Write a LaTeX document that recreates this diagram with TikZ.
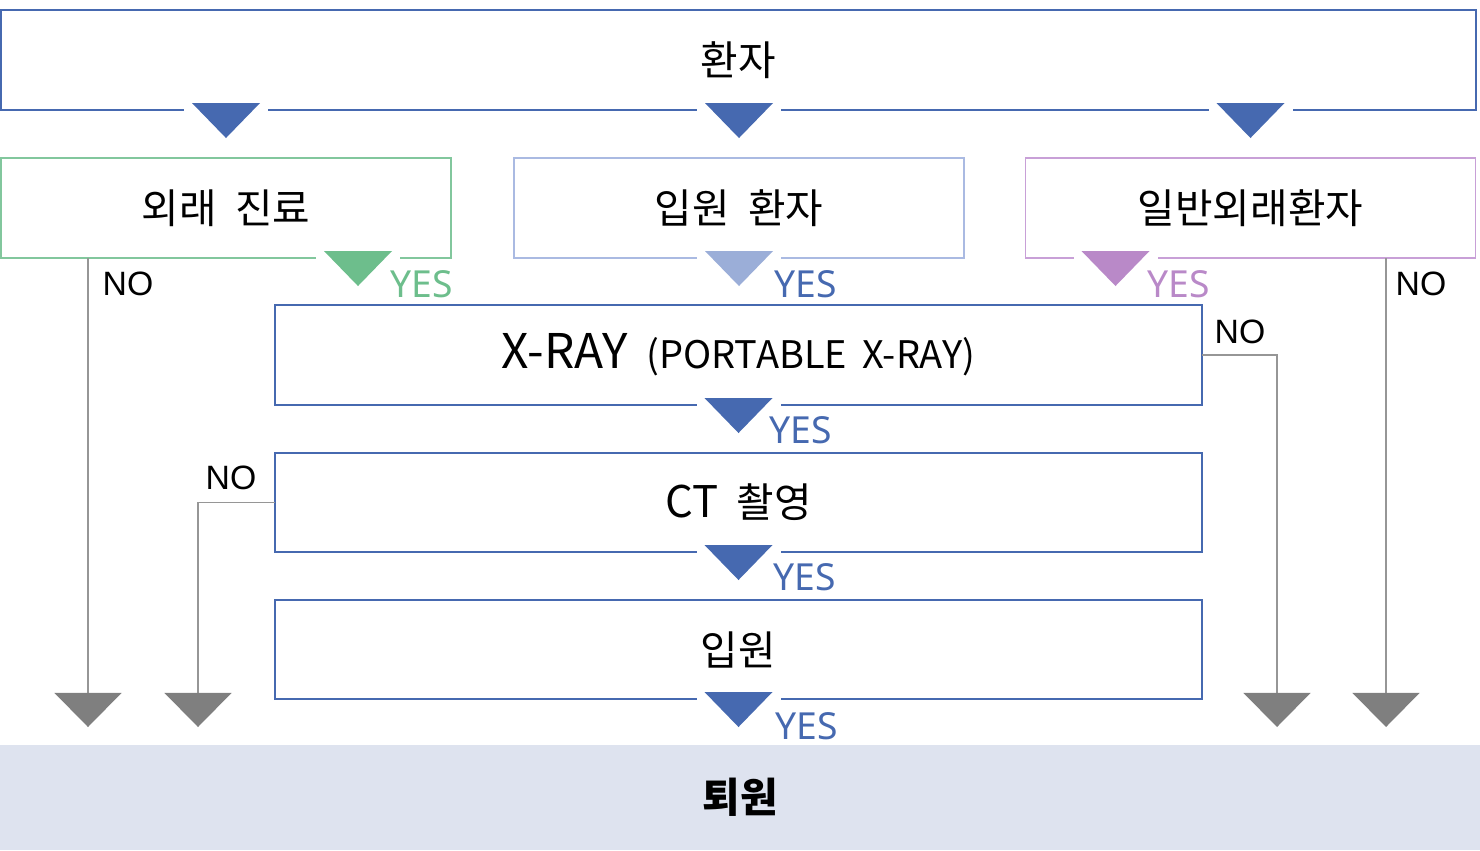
\documentclass[tikz,border=0pt]{standalone}
\usepackage{fontspec}
\setmainfont{Noto Sans CJK KR}
\newfontfamily\yesfont{Noto Sans}
\newfontfamily\nofont{Liberation Sans}
\usetikzlibrary{calc,arrows.meta}

\definecolor{flowblue}{RGB}{70,105,176}
\definecolor{greenline}{RGB}{130,199,157}
\definecolor{greenfill}{RGB}{109,190,140}
\definecolor{lightline}{RGB}{170,186,226}
\definecolor{lightfill}{RGB}{155,174,216}
\definecolor{purpleline}{RGB}{200,160,215}
\definecolor{purplefill}{RGB}{185,137,200}
\definecolor{linegray}{RGB}{150,150,150}
\definecolor{tipgray}{RGB}{127,127,127}
\definecolor{band}{RGB}{222,227,239}

% triangle marker under a box, cutting its border
\newcommand{\flowtri}[2]{%
  \fill[white] ($(#1)+(-42,-4)$) rectangle ($(#1)+(42,4)$);
  \fill[#2] ($(#1)+(-34,-7)$) -- ($(#1)+(34,-7)$) -- ($(#1)+(0,28)$) -- cycle;}

\tikzset{
  box/.style={draw=#1, line width=1.2pt, fill=white, inner sep=0pt, outer sep=0pt,
    minimum height=2.5cm, font=\fontsize{29}{32}\selectfont},
  yeslbl/.style={font=\yesfont\fontsize{26.5}{30}\selectfont, text=#1, inner sep=0pt, anchor=west},
  nolbl/.style={font=\nofont\fontsize{24}{28}\selectfont, inner sep=0pt},
  noline/.style={draw=linegray, line width=1.4pt,
    -{Triangle[width=47.7pt, length=24.2pt, line width=0pt, color=tipgray]}},
}

\begin{document}
\begin{tikzpicture}[x=0.025cm, y=-0.025cm]
\useasboundingbox (0,0) rectangle (1480,850);

% Caixas
\node[box=flowblue, minimum width=36.875cm] (patient) at (738.5,60) {환자};
\node[box=greenline, minimum width=11.25cm] (outpt) at (226,208) {외래\hspace{.45em}진료};
\node[box=lightline, minimum width=11.25cm] (inpt) at (739,208) {입원\hspace{.45em}환자};
\node[box=purpleline, minimum width=11.25cm] (general) at (1250.5,208) {일반외래환자};
\node[box=flowblue, minimum width=23.175cm] (xray) at (738.5,355)
  {{\fontsize{34}{36}\selectfont X-RAY}\hspace{.45em}{\fontsize{27}{30}\selectfont(PORTABLE\hspace{.4em}X-RAY)}};
\node[box=flowblue, minimum width=23.175cm, minimum height=2.475cm] (ct) at (738.5,502.5)
  {{\fontsize{31}{34}\selectfont CT}\hspace{.45em}촬영};
\node[box=flowblue, minimum width=23.175cm, minimum height=2.475cm] (admit) at (738.5,649.5) {입원};
\node[fill=band, inner sep=0pt, minimum width=37cm, minimum height=2.625cm,
  font=\bfseries\fontsize{29}{32}\selectfont] (discharge) at (740,797.5) {퇴원};

% Caminhos NO
\coordinate (n1) at (88,727);
\coordinate (n2) at (198,727);
\coordinate (n3) at (1277,727);
\coordinate (n4) at (1386,727);
\draw[noline] (outpt.south -| n1) -- (n1);
\draw[noline] (ct.west) -| (n2);
\draw[noline] (xray.east) -| (n3);
\draw[noline] (general.south -| n4) -- (n4);

% Triangulos
\coordinate (t1) at (patient.south -| outpt.south);
\coordinate (t2) at (patient.south -| inpt.south);
\coordinate (t3) at (patient.south -| general.south);
\coordinate (t4) at ($(outpt.south)+(132,0)$);
\coordinate (t5) at (inpt.south);
\coordinate (t6) at ($(general.south)+(-135,0)$);
\coordinate (t7) at (xray.south);
\coordinate (t8) at (ct.south);
\coordinate (t9) at (admit.south);
\flowtri{t1}{flowblue}
\flowtri{t2}{flowblue}
\flowtri{t3}{flowblue}
\flowtri{t4}{greenfill}
\flowtri{t5}{lightfill}
\flowtri{t6}{purplefill}
\flowtri{t7}{flowblue}
\flowtri{t8}{flowblue}
\flowtri{t9}{flowblue}

% Rotulos
\node[yeslbl=greenfill] (yes1) at ($(t4)+(32,26)$) {YES};
\node[yeslbl=flowblue] (yes2) at ($(t5)+(35,26)$) {YES};
\node[yeslbl=purplefill] (yes3) at ($(t6)+(32,26)$) {YES};
\node[yeslbl=flowblue] (yes4) at ($(t7)+(31,25)$) {YES};
\node[yeslbl=flowblue] (yes5) at ($(t8)+(35,25)$) {YES};
\node[yeslbl=flowblue] (yes6) at ($(t9)+(37,27)$) {YES};
\node[nolbl] (no1) at (128,284) {NO};
\node[nolbl] (no2) at (231,478) {NO};
\node[nolbl] (no3) at (1240,332) {NO};
\node[nolbl] (no4) at (1421,284) {NO};
\end{tikzpicture}
\end{document}
